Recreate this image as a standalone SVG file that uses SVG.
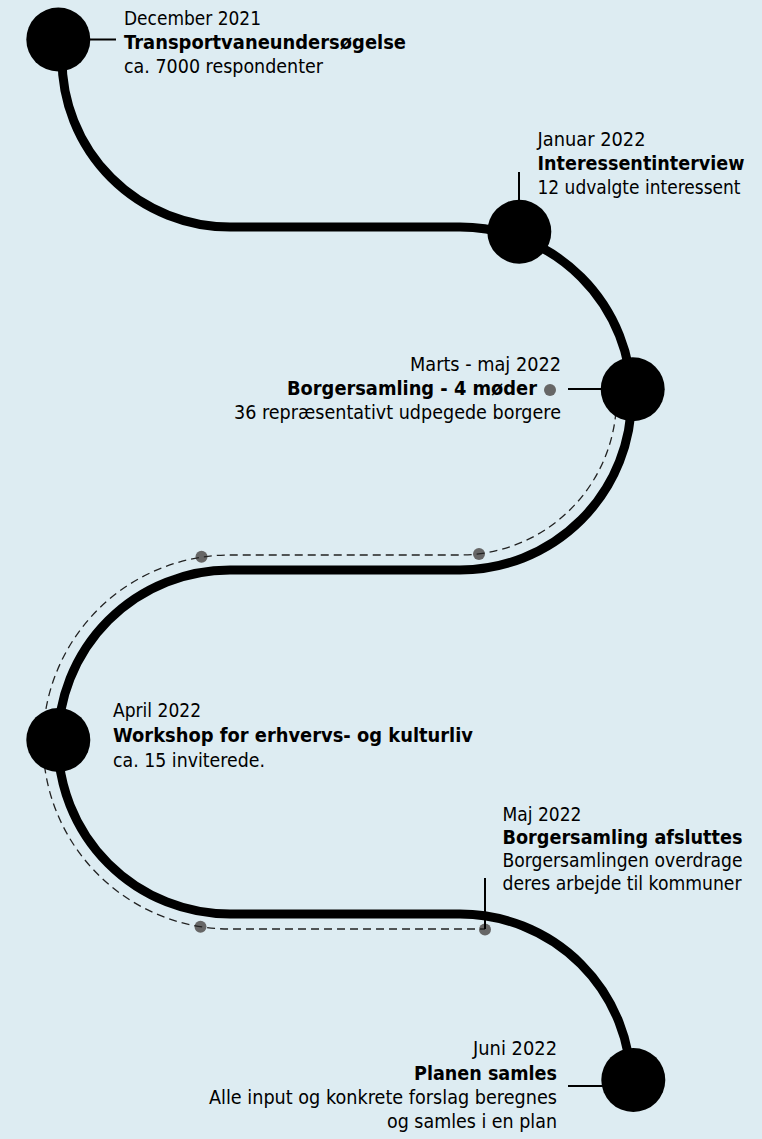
<svg xmlns="http://www.w3.org/2000/svg" width="762" height="1139" viewBox="0 0 762 1139">
<defs>
<style>
.bg{fill:#ddecf2}
.main{fill:none;stroke:#000;stroke-width:9}
.dash{fill:none;stroke:#222;stroke-width:1.3;stroke-dasharray:8 5}
.tick{stroke:#000;stroke-width:2}
.node{fill:#000}
.dot{fill:#666}
text{font-family:"DejaVu Sans","Liberation Sans",sans-serif;font-size:20px;fill:#000}
.b{font-weight:bold}
.e{text-anchor:end}
</style>
</defs>
<rect class="bg" x="0" y="0" width="762" height="1139"/>
<g id="connectors">
<circle class="dot" cx="479" cy="554" r="6"/>
<circle class="dot" cx="201.5" cy="556.7" r="6"/>
<circle class="dot" cx="200.5" cy="926.7" r="6"/>
<circle class="dot" cx="485" cy="929.5" r="6"/>
<path class="main" d="M62 59 A168 168 0 0 0 230 227 L460 227 A171.5 171.5 0 0 1 631.5 398.5 A171.5 171.5 0 0 1 460 570 L230 570 A172 172 0 0 0 58 742 A172 172 0 0 0 230 914 L460 914 A171 171 0 0 1 631 1085"/>
<path class="dash" d="M616.5 398.5 A156.5 156.5 0 0 1 460 555 L230 555 A187 187 0 0 0 43 742 A187 187 0 0 0 230 929 L485 929"/>
<line class="tick" x1="89" y1="39.5" x2="116" y2="39.5"/>
<line class="tick" x1="519" y1="172" x2="519" y2="202"/>
<line class="tick" x1="568" y1="389" x2="602" y2="389"/>
<line class="tick" x1="485" y1="878" x2="485" y2="929"/>
<line class="tick" x1="568" y1="1086" x2="603" y2="1086"/>
</g>
<g id="node1">
<circle class="node" cx="58.3" cy="39.5" r="32"/>
<text x="124" y="25" textLength="137" lengthAdjust="spacingAndGlyphs">December 2021</text>
<text class="b" x="124" y="49" textLength="282" lengthAdjust="spacingAndGlyphs">Transportvaneundersøgelse</text>
<text x="124" y="73" textLength="199" lengthAdjust="spacingAndGlyphs">ca. 7000 respondenter</text>
</g>
<g id="node2">
<circle class="node" cx="519.3" cy="231.7" r="32"/>
<text x="537.5" y="146" textLength="108" lengthAdjust="spacingAndGlyphs">Januar 2022</text>
<text class="b" x="537.5" y="170" textLength="207" lengthAdjust="spacingAndGlyphs">Interessentinterview</text>
<text x="537.5" y="194" textLength="203" lengthAdjust="spacingAndGlyphs">12 udvalgte interessent</text>
</g>
<g id="node3">
<circle class="node" cx="632.7" cy="389.3" r="32"/>
<circle class="dot" cx="550" cy="390" r="6"/>
<text class="e" x="561" y="371" textLength="151" lengthAdjust="spacingAndGlyphs">Marts - maj 2022</text>
<text class="b e" x="537" y="395" textLength="250" lengthAdjust="spacingAndGlyphs">Borgersamling - 4 møder</text>
<text class="e" x="561" y="419" textLength="327" lengthAdjust="spacingAndGlyphs">36 repræsentativt udpegede borgere</text>
</g>
<g id="node4">
<circle class="node" cx="58.3" cy="740" r="32"/>
<text x="113" y="717" textLength="88" lengthAdjust="spacingAndGlyphs">April 2022</text>
<text class="b" x="113" y="742" textLength="360" lengthAdjust="spacingAndGlyphs">Workshop for erhvervs- og kulturliv</text>
<text x="113" y="767" textLength="152" lengthAdjust="spacingAndGlyphs">ca. 15 inviterede.</text>
</g>
<g id="node5">
<text x="502.5" y="821" textLength="79" lengthAdjust="spacingAndGlyphs">Maj 2022</text>
<text class="b" x="502.5" y="844" textLength="240" lengthAdjust="spacingAndGlyphs">Borgersamling afsluttes</text>
<text x="502.5" y="867" textLength="240" lengthAdjust="spacingAndGlyphs">Borgersamlingen overdrage</text>
<text x="502.5" y="890" textLength="239" lengthAdjust="spacingAndGlyphs">deres arbejde til kommuner</text>
</g>
<g id="node6">
<circle class="node" cx="633.3" cy="1080" r="32"/>
<text class="e" x="557" y="1055" textLength="84" lengthAdjust="spacingAndGlyphs">Juni 2022</text>
<text class="b e" x="557" y="1080" textLength="143" lengthAdjust="spacingAndGlyphs">Planen samles</text>
<text class="e" x="557" y="1104" textLength="348" lengthAdjust="spacingAndGlyphs">Alle input og konkrete forslag beregnes</text>
<text class="e" x="557" y="1128" textLength="170" lengthAdjust="spacingAndGlyphs">og samles i en plan</text>
</g>
</svg>
